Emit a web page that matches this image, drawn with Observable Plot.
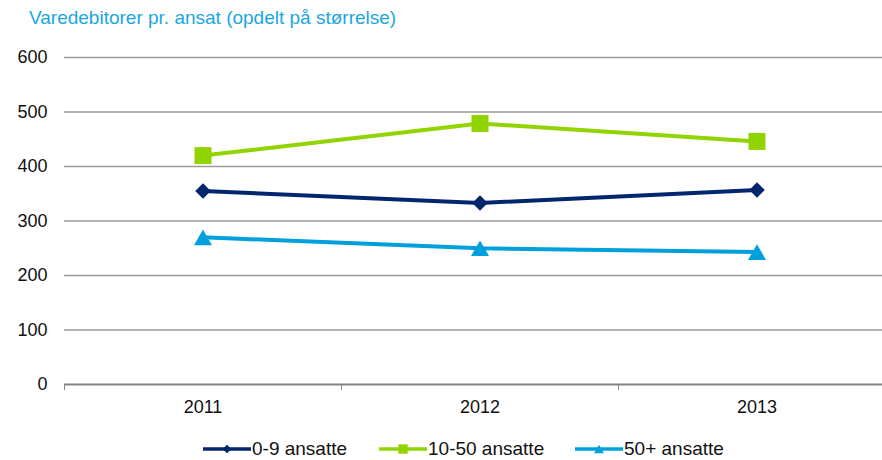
<!DOCTYPE html>
<html>
<head>
<meta charset="utf-8">
<script src="https://cdn.jsdelivr.net/npm/d3@7"></script>
<script src="https://cdn.jsdelivr.net/npm/@observablehq/plot@0.6"></script>
<style>
  body { margin: 0; background: #fff; font-family: "Liberation Sans", Arial, sans-serif; }
  #wrap { width: 882px; height: 460px; overflow: hidden; position: relative; }
  #title { height: 40px; box-sizing: border-box; padding: 7px 0 0 29px; color: #1AA7E0; font-size: 19px; line-height: 22px; }
  #chart svg { display: block; }
  #legend { position: absolute; left: 0; top: 437px; width: 882px; height: 24px; }
  .item { position: absolute; top: 0; display: flex; align-items: center; font-size: 19px; color: #111; }
  .item svg { display: block; }
</style>
</head>
<body>
<div id="wrap">
  <div id="title">Varedebitorer pr. ansat (opdelt på størrelse)</div>
  <div id="chart"></div>
  <div id="legend"></div>
</div>
<script>
// ---- data ----
const years = [2011, 2012, 2013];
const seriesNames = ["0-9 ansatte", "10-50 ansatte", "50+ ansatte"];
const values0to9 = [355, 333, 357];
const values10to50 = [420, 479, 446];
const values50plus = [270, 250, 243];
const yTicks = [0, 100, 200, 300, 400, 500, 600];

// ---- styles ----
const colors = ["#00266E", "#92D400", "#00A0DC"];
const symbols = ["diamond2", "square", "triangle"];
const radii = [7.0, 9.6, 6.7];
const dys = [0, 0, 2.6];
const legendItemLeft = [202, 378, 574];

const allValues = [values0to9, values10to50, values50plus];
const rows = seriesNames.flatMap((s, i) => years.map((yr, j) => ({series: s, year: yr, value: allValues[i][j]})));
const boundaries = years.map(y => y - 0.5);

const marks = [
  Plot.ruleY(yTicks.filter(d => d > 0), {stroke: "#9a9a9a", strokeWidth: 1.5}),
  Plot.ruleY([0], {stroke: "#858585", strokeWidth: 2}),
  Plot.axisX(boundaries, {tickSize: 6, tickFormat: () => "", stroke: "#858585", strokeWidth: 1, label: null}),
  Plot.axisX(years, {tickSize: 0, tickPadding: 16, tickFormat: d => String(d), fontSize: 18, fill: "#111", label: null}),
  Plot.axisY(yTicks, {tickSize: 0, tickPadding: 17, fontSize: 18, fill: "#111", label: null}),
];
seriesNames.forEach((s, i) => {
  const d = rows.filter(r => r.series === s);
  marks.push(Plot.lineY(d, {x: "year", y: "value", stroke: colors[i], strokeWidth: 4}));
});
seriesNames.forEach((s, i) => {
  const d = rows.filter(r => r.series === s);
  marks.push(Plot.dot(d, {x: "year", y: "value", fill: colors[i], stroke: "none", symbol: symbols[i], r: radii[i], dy: dys[i]}));
});

const chart = Plot.plot({
  width: 882,
  height: 390,
  marginTop: 17,
  marginBottom: 46,
  marginLeft: 64,
  marginRight: 0,
  style: {fontFamily: "'Liberation Sans', Arial, sans-serif", background: "#fff", overflow: "visible"},
  x: {domain: [boundaries[0], years[years.length - 1] + 0.5], range: [64, 895]},
  y: {domain: [yTicks[0], yTicks[yTicks.length - 1]]},
  marks
});
document.getElementById("chart").appendChild(chart);

// ---- legend ----
const legend = d3.select("#legend");
seriesNames.forEach((s, i) => {
  const item = legend.append("div").attr("class", "item").style("left", legendItemLeft[i] + "px");
  const svg = item.append("svg").attr("width", 50).attr("height", 24);
  svg.append("line").attr("x1", 1).attr("x2", 49).attr("y1", 12).attr("y2", 12)
    .attr("stroke", colors[i]).attr("stroke-width", 3.5);
  const sym = {diamond2: d3.symbolDiamond2, square: d3.symbolSquare, triangle: d3.symbolTriangle}[symbols[i]];
  const rr = radii[i] * 0.55;
  svg.append("path").attr("d", d3.symbol(sym, rr * rr * Math.PI)())
    .attr("transform", `translate(25,${12 + dys[i] * 0.55})`).attr("fill", colors[i]);
  item.append("span").text(s);
});
</script>
</body>
</html>
